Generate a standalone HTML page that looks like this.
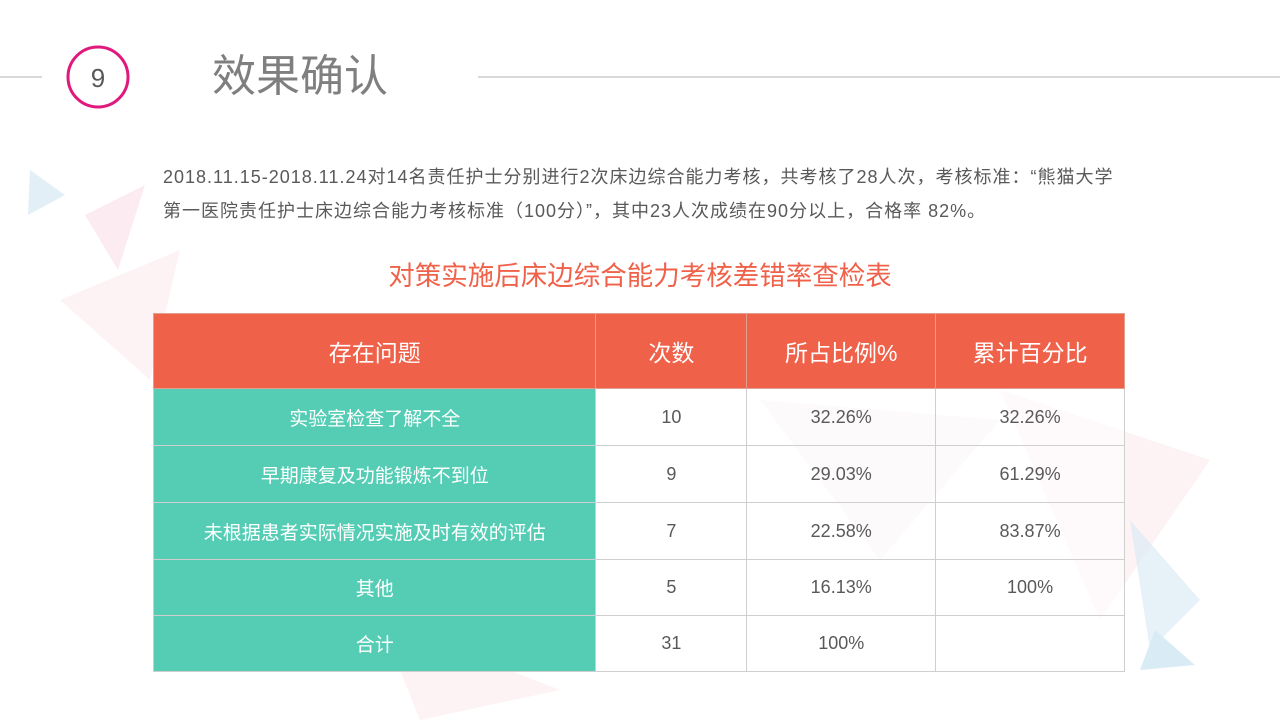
<!DOCTYPE html>
<html><head><meta charset="utf-8"><style>
body{margin:0;width:1280px;height:720px;background:#fff;position:relative;overflow:hidden;font-family:"Liberation Sans","Noto Sans CJK SC",sans-serif;}
.a{position:absolute}
table{border-collapse:collapse;position:absolute;left:153px;top:313px;width:972px;}
td{border:1px solid #cfcfcf;text-align:center;font-size:18px;color:#595959;padding:0;background:rgba(255,255,255,0.6)}
tr.h td{background:#f0614a;color:#fff;font-size:23px;height:74px;border-color:#e0a090}
td.g{background:#55cdb5;color:#fff;font-size:19px}
</style></head><body>
<svg class="a" style="left:0;top:0" width="1280" height="720">
<polygon points="30,170 65,195 28,215" fill="#dcebf5" opacity="0.8"/>
<polygon points="85,215 145,185 118,270" fill="#fbe3ea" opacity="0.7"/>
<polygon points="60,300 180,250 150,380" fill="#fdf3f5"/>
<polygon points="760,400 1000,420 880,560" fill="#f6e8f0" opacity="0.5"/>
<polygon points="1000,390 1210,460 1100,620" fill="#fbe5ea" opacity="0.5"/>
<polygon points="1130,520 1200,600 1150,650" fill="#dcebf5" opacity="0.7"/>
<polygon points="1155,630 1195,665 1140,670" fill="#d9ecf6"/>
<polygon points="380,620 560,690 420,720" fill="#fbe5ea" opacity="0.5"/>
<line x1="0" y1="77" x2="42" y2="77" stroke="#d9d9d9" stroke-width="2"/>
<line x1="478" y1="77" x2="1280" y2="77" stroke="#d9d9d9" stroke-width="2"/>
<circle cx="98" cy="77" r="30" fill="#fff" stroke="#e0197d" stroke-width="3"/>
<text x="98" y="87" font-size="26" fill="#595959" text-anchor="middle" font-family="Liberation Sans">9</text>
</svg>
<div class="a" style="left:212px;top:48px;font-size:44px;color:#7f7f7f;line-height:58px">效果确认</div>
<div class="a" style="left:163px;top:160px;width:1000px;font-size:18px;letter-spacing:1px;color:#595959;line-height:34px;white-space:nowrap">2018.11.15-2018.11.24对14名责任护士分别进行2次床边综合能力考核，共考核了28人次，考核标准：“熊猫大学<br>第一医院责任护士床边综合能力考核标准（100分）”，其中23人次成绩在90分以上，合格率 82%。</div>
<div class="a" style="left:0;width:1280px;top:254px;text-align:center;font-size:26.5px;color:#f0614a">对策实施后床边综合能力考核差错率查检表</div>
<table>
<colgroup><col style="width:443px"><col style="width:151px"><col style="width:189px"><col style="width:189px"></colgroup>
<tr class="h"><td>存在问题</td><td>次数</td><td>所占比例%</td><td>累计百分比</td></tr>
<tr style="height:57px"><td class="g">实验室检查了解不全</td><td>10</td><td>32.26%</td><td>32.26%</td></tr>
<tr style="height:57px"><td class="g">早期康复及功能锻炼不到位</td><td>9</td><td>29.03%</td><td>61.29%</td></tr>
<tr style="height:57px"><td class="g">未根据患者实际情况实施及时有效的评估</td><td>7</td><td>22.58%</td><td>83.87%</td></tr>
<tr style="height:56px"><td class="g">其他</td><td>5</td><td>16.13%</td><td>100%</td></tr>
<tr style="height:56px"><td class="g">合计</td><td>31</td><td>100%</td><td></td></tr>
</table>
</body></html>
